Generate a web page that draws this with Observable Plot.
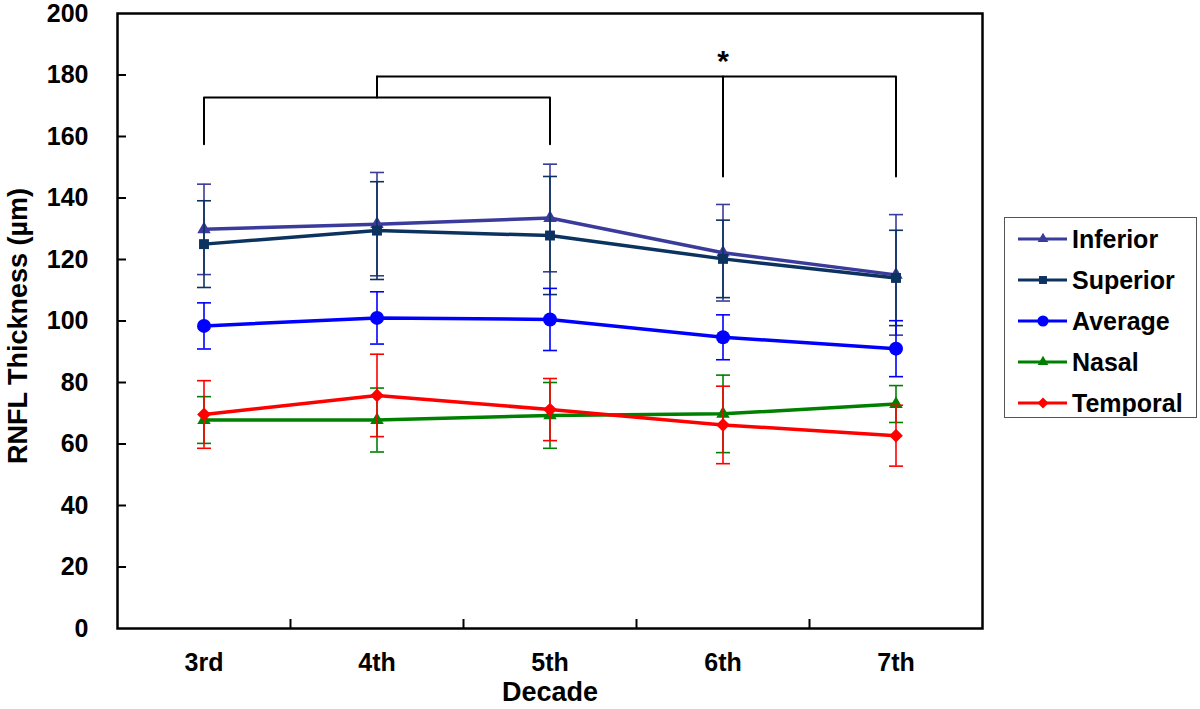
<!DOCTYPE html>
<html><head><meta charset="utf-8">
<script src="https://cdn.jsdelivr.net/npm/d3@7"></script>
<script src="https://cdn.jsdelivr.net/npm/@observablehq/plot@0.6"></script>
<style>
body{margin:0;background:#fff;}
#wrap{position:relative;width:1200px;height:709px;background:#fff;}
#legend{position:absolute;left:1004px;top:217px;width:193px;height:201px;box-sizing:border-box;border:1.5px solid #555;background:#fff;}
</style></head><body><div id="wrap"></div>
<script>
// ---- data ----
const decades = ["3rd", "4th", "5th", "6th", "7th"];
const seriesNames = ["Inferior", "Superior", "Average", "Nasal", "Temporal"];
const inferior = [129.8, 131.5, 133.5, 122.2, 115.0];
const inferiorSD = [14.7, 16.8, 17.5, 15.7, 19.6];
const superior = [125.0, 129.4, 127.8, 120.2, 114.0];
const superiorSD = [14.1, 15.9, 19.2, 12.6, 15.5];
const average = [98.4, 101.0, 100.5, 94.7, 91.0];
const averageSD = [7.5, 8.5, 10.1, 7.3, 9.1];
const nasal = [67.8, 67.8, 69.3, 69.8, 73.0];
const nasalSD = [7.6, 10.4, 10.7, 12.6, 6.0];
const temporal = [69.6, 75.8, 71.2, 66.2, 62.7];
const temporalSD = [11.0, 13.4, 10.1, 12.6, 9.9];
const yTicks = [0, 20, 40, 60, 80, 100, 120, 140, 160, 180, 200];
// significance brackets (decade, value)
const bracketLow = [["3rd", 157.5], ["3rd", 172.7], ["5th", 172.7], ["5th", 157.5]];
const bracketStem = [["4th", 172.7], ["4th", 179.5]];
const bracketHigh = [["4th", 179.5], ["7th", 179.5], ["7th", 147]];
const bracketDrop = [["6th", 179.5], ["6th", 147]];
const starMark = [["6th", 184.5, "*"]];

// ---- styles ----
const colors = {Inferior: "#3b3b9b", Superior: "#0c325f", Average: "#0000ff", Nasal: "#008000", Temporal: "#ff0000"};
const symbols = {Inferior: "triangle", Superior: "square", Average: "circle", Nasal: "triangle", Temporal: "diamond2"};
const radii = {Inferior: 5.0, Superior: 5.6, Average: 7.0, Nasal: 5.0, Temporal: 6.2};
const valuesBy = {Inferior: [inferior, inferiorSD], Superior: [superior, superiorSD], Average: [average, averageSD], Nasal: [nasal, nasalSD], Temporal: [temporal, temporalSD]};

const idx = d => decades.indexOf(d) + 1;
const rows = seriesNames.flatMap(s => decades.map((d, i) => {
  const v = valuesBy[s][0][i], sd = valuesBy[s][1][i];
  return {series: s, decade: d, xi: idx(d), value: v, lo: v - sd, hi: v + sd};
}));
const pts = arr => arr.map(([d, y, t]) => ({xi: idx(d), y, t}));

const capSymbol = {draw(ctx, size) { const w = Math.sqrt(size / Math.PI); ctx.moveTo(-w, 0); ctx.lineTo(w, 0); }};

const marks = [];
// inward ticks
marks.push(Plot.ruleY(yTicks.slice(1, -1), {y: d => d, x1: 0.5, x2: 0.5 + 9 / 173, stroke: "black", strokeWidth: 2}));
marks.push(Plot.ruleX([1.5, 2.5, 3.5, 4.5], {x: d => d, y1: 0, y2: 9 / 3.08, stroke: "black", strokeWidth: 2}));
for (const s of seriesNames) {
  const data = rows.filter(r => r.series === s);
  const c = colors[s];
  marks.push(Plot.ruleX(data, {x: "xi", y1: "lo", y2: "hi", stroke: c, strokeWidth: 1.6}));
  marks.push(Plot.dot(data, {x: "xi", y: "lo", symbol: capSymbol, r: 7, stroke: c, strokeWidth: 1.6, fill: "none"}));
  marks.push(Plot.dot(data, {x: "xi", y: "hi", symbol: capSymbol, r: 7, stroke: c, strokeWidth: 1.6, fill: "none"}));
  marks.push(Plot.line(data, {x: "xi", y: "value", stroke: c, strokeWidth: 3.5}));
  marks.push(Plot.dot(data, {x: "xi", y: "value", symbol: symbols[s], r: radii[s], fill: c, stroke: "none"}));
}
for (const b of [bracketLow, bracketStem, bracketHigh, bracketDrop]) {
  marks.push(Plot.line(pts(b), {x: "xi", y: "y", stroke: "black", strokeWidth: 2}));
}
marks.push(Plot.text(pts(starMark), {x: "xi", y: "y", text: "t", fontSize: 30, fontWeight: "bold", fill: "black"}));
marks.push(Plot.frame({stroke: "black", strokeWidth: 2.5}));
marks.push(Plot.axisY({ticks: yTicks, tickSize: 0, tickPadding: 29, label: null, fontSize: 25}));
marks.push(Plot.axisX({ticks: [1, 2, 3, 4, 5], tickFormat: i => decades[i - 1], tickSize: 0, tickPadding: 25, label: null, fontSize: 25}));
marks.push(Plot.text(["Decade"], {frameAnchor: "bottom", lineAnchor: "middle", textAnchor: "middle", dy: 64, text: d => d, fontSize: 27, fontWeight: "bold", fill: "black"}));
marks.push(Plot.text(["RNFL Thickness (µm)"], {frameAnchor: "left", lineAnchor: "middle", textAnchor: "middle", dx: -99, dy: 5, rotate: -90, text: d => d, fontSize: 27, fontWeight: "bold", fill: "black"}));

const chart = Plot.plot({
  width: 1200, height: 709,
  marginLeft: 117, marginRight: 218, marginTop: 13, marginBottom: 81,
  x: {type: "linear", domain: [0.5, 5.5], axis: null},
  y: {domain: [0, 200], axis: null},
  style: {fontFamily: "'Liberation Sans', Arial, sans-serif", fontWeight: "bold", fontSize: "25px", color: "black", background: "white", overflow: "visible"},
  marks
});
const wrap = document.getElementById("wrap");
wrap.appendChild(chart);

// ---- legend ----
const leg = document.createElement("div");
leg.id = "legend";
wrap.appendChild(leg);
const lsvg = d3.select(leg).append("svg").attr("width", 190).attr("height", 198)
  .style("font-family", "'Liberation Sans', Arial, sans-serif").style("font-weight", "bold").style("font-size", "25px");
const symMap = {triangle: d3.symbolTriangle, square: d3.symbolSquare, circle: d3.symbolCircle, diamond2: d3.symbolDiamond2};
seriesNames.forEach((s, i) => {
  const y = 21 + i * 41;
  const g = lsvg.append("g").attr("transform", `translate(0,${y})`);
  g.append("line").attr("x1", 13).attr("x2", 62).attr("stroke", colors[s]).attr("stroke-width", 3);
  const r = radii[s] * 0.8;
  g.append("path").attr("transform", "translate(38,0)").attr("d", d3.symbol(symMap[symbols[s]], Math.PI * r * r)()).attr("fill", colors[s]);
  g.append("text").attr("x", 67).attr("dy", "0.35em").text(s).attr("fill", "black");
});
</script></body></html>
